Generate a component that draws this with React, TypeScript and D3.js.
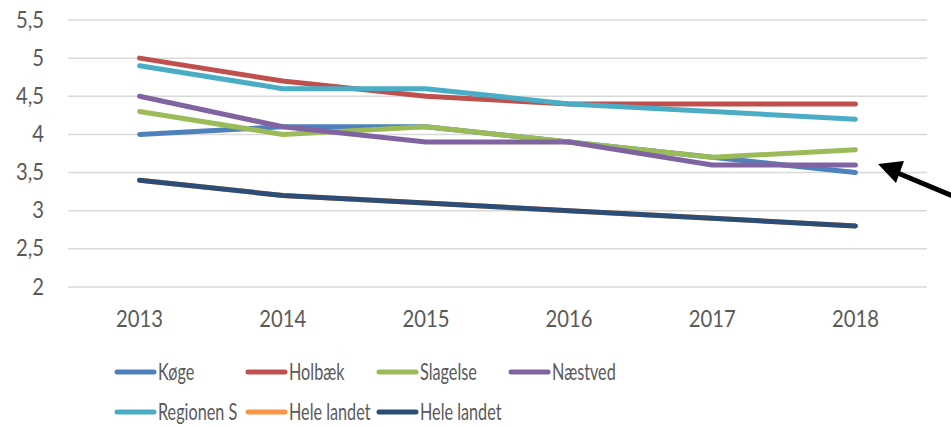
import React, { useEffect, useRef } from 'react';
import * as d3 from 'd3';

const years = ['2013', '2014', '2015', '2016', '2017', '2018'];
const yTicks = [2, 2.5, 3, 3.5, 4, 4.5, 5, 5.5];

const koege = [4.0, 4.1, 4.1, 3.9, 3.7, 3.5];
const holbaek = [5.0, 4.7, 4.5, 4.4, 4.4, 4.4];
const slagelse = [4.3, 4.0, 4.1, 3.9, 3.7, 3.8];
const naestved = [4.5, 4.1, 3.9, 3.9, 3.6, 3.6];
const regionen = [4.9, 4.6, 4.6, 4.4, 4.3, 4.2];
const heleLandet1 = [3.4, 3.2, 3.1, 3.0, 2.9, 2.8];
const heleLandet2 = [3.4, 3.2, 3.1, 3.0, 2.9, 2.8];

const seriesNames = ['Køge', 'Holbæk', 'Slagelse', 'Næstved', 'Regionen S', 'Hele landet', 'Hele landet'];
const seriesValues = [koege, holbaek, slagelse, naestved, regionen, heleLandet1, heleLandet2];
const seriesColors = ['#4f81bd', '#c0504d', '#9bbb59', '#8064a2', '#4bacc6', '#f79646', '#2c4d75'];

const App = () => {
  const svgRef = useRef<SVGSVGElement>(null);

  useEffect(() => {
    const svg = d3.select(svgRef.current);
    svg.selectAll('*').remove();

    const font = 'Lato, "Open Sans", sans-serif';
    const left = 68, right = 927, top = 20, bottom = 287;
    // the picture is squeezed sideways, so the text is too
    const tickScale = 0.88, legendScale = 0.69;

    const x = d3.scaleBand().domain(years).range([left, right]);
    const y = d3.scaleLinear().domain([2, 5.5]).range([bottom, top]);

    // gridlines + y labels
    const yAxis = svg.append('g');
    yTicks.forEach(t => {
      yAxis.append('line')
        .attr('x1', left).attr('x2', right)
        .attr('y1', y(t)).attr('y2', y(t))
        .attr('stroke', '#d9d9d9').attr('stroke-width', 1.5);
      yAxis.append('text')
        .attr('transform', `translate(44,${y(t) + 7.5}) scale(${tickScale},1)`)
        .attr('text-anchor', 'end')
        .attr('font-family', font).attr('font-size', 23)
        .attr('fill', '#595959')
        .text(String(t).replace('.', ','));
    });

    // x labels
    years.forEach(yr => {
      svg.append('text')
        .attr('transform', `translate(${x(yr)! + x.bandwidth() / 2},327) scale(${tickScale},1)`)
        .attr('text-anchor', 'middle')
        .attr('font-family', font).attr('font-size', 23)
        .attr('fill', '#595959')
        .text(yr);
    });

    const line = d3.line<number>()
      .x((d, i) => x(years[i])! + x.bandwidth() / 2)
      .y(d => y(d));

    seriesValues.forEach((vals, i) => {
      svg.append('path')
        .datum(vals)
        .attr('fill', 'none')
        .attr('stroke', seriesColors[i])
        .attr('stroke-width', 5)
        .attr('stroke-linecap', 'round')
        .attr('stroke-linejoin', 'round')
        .attr('d', line);
    });

    // legend
    const legendX = [117, 248, 379, 511];
    seriesNames.forEach((name, i) => {
      const lx = legendX[i % 4];
      const ly = i < 4 ? 372 : 412;
      svg.append('line')
        .attr('x1', lx).attr('x2', lx + 37)
        .attr('y1', ly).attr('y2', ly)
        .attr('stroke', seriesColors[i]).attr('stroke-width', 5)
        .attr('stroke-linecap', 'round');
      svg.append('text')
        .attr('transform', `translate(${lx + 41},${ly + 8}) scale(${legendScale},1)`)
        .attr('font-family', font).attr('font-size', 23.5)
        .attr('fill', '#595959')
        .text(name);
    });

    // arrow
    svg.append('line')
      .attr('x1', 960).attr('y1', 199).attr('x2', 893).attr('y2', 171)
      .attr('stroke', '#000').attr('stroke-width', 5);
    svg.append('path')
      .attr('d', 'M878,164 L904,161 L896,183 Z')
      .attr('fill', '#000');
  }, []);

  return (
    <svg ref={svgRef} width={951} height={427}
      style={{ position: 'absolute', left: 0, top: 0, background: '#fff' }} />
  );
};

export default App;
